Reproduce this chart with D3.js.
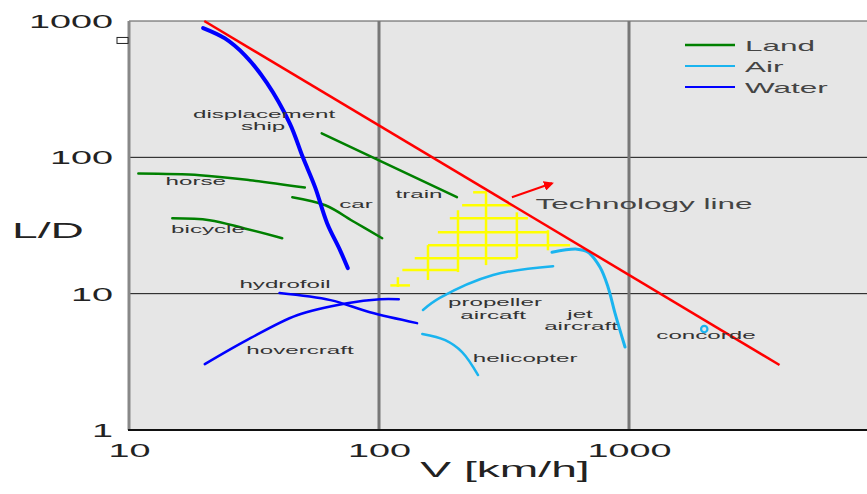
<!DOCTYPE html>
<html lang="en">
<head>
<meta charset="UTF-8">
<title>L/D vs V</title>
<script src="https://cdn.jsdelivr.net/npm/d3@7"></script>
<style>
  html, body { margin: 0; padding: 0; background: #fff; }
  svg { display: block; font-family: "Liberation Sans", Arial, sans-serif; }
</style>
</head>
<body>
<svg id="chart" width="867" height="494"></svg>
<script>
// ---- data (V in km/h, L/D) ----
const categories = ["Land", "Air", "Water"];
const categoryColors = ["#008000", "#1ab4ef", "#0000ff"];

const horse = [[10.9, 76], [19.2, 74], [30.5, 68], [50.5, 60]];
const bicycle = [[14.9, 35.7], [21, 34.6], [29, 30.1], [41, 25.5]];
const car = [[45, 51], [61, 44.5], [80, 33.4], [103, 25.5]];
const train = [[59, 150], [205, 51]];

const propeller = [[150, 7.6], [175, 9.3], [286, 13.7], [497, 15.9]];
const jet = [[492, 20.1], [620, 21.2], [686, 20.1], [766, 15.6], [824, 11.2], [879, 7.2], [964, 4.06]];
const helicopter = [[149, 5.06], [184, 4.56], [215, 3.73], [249, 2.53]];
const concorde = [2000, 5.5];

const ship = [[19.8, 888], [24.2, 745], [29.1, 560], [35.6, 352], [44, 177], [49.6, 100], [55.5, 60.5], [62, 32.9], [69.9, 20.8], [75, 15.4]];
const hydrofoil = [[40, 10.1], [64, 8.97], [92, 7.3], [142, 6.08]];
const hovercraft = [[20.1, 3.04], [29.6, 4.56], [47, 6.95], [74.5, 8.52], [101, 9.1], [120, 9.1]];

const techLine = [[20, 1000], [4000, 3]];
const techArrow = [[340, 51], [492, 64.5]];

// yellow hatch: horizontal [L, V1, V2], vertical [V, L1, L2]
const hatchH = [[55.4, 238, 270], [44.5, 215, 344], [35.7, 192, 394], [28.2, 172, 474],
                [22.7, 157, 581], [18.2, 139, 356], [14.9, 124, 207], [11.5, 111, 133]];
const hatchV = [[268, 55.4, 16.2], [207, 40.9, 14.4], [157, 22.7, 12.6], [119, 13.2, 11.2],
                [356, 39.5, 18.2], [474, 29.2, 20.8]];

const series = [
  { pts: horse, cat: 0, w: 2.5 },
  { pts: bicycle, cat: 0, w: 2.5 },
  { pts: car, cat: 0, w: 2.5 },
  { pts: train, cat: 0, w: 2.5 },
  { pts: propeller, cat: 1, w: 2.5 },
  { pts: jet, cat: 1, w: 3 },
  { pts: helicopter, cat: 1, w: 2.5 },
  { pts: ship, cat: 2, w: 4 },
  { pts: hydrofoil, cat: 2, w: 2.5 },
  { pts: hovercraft, cat: 2, w: 2.5 }
];

// labels anchored in data units (centre, baseline)
const labels = [
  ["displacement", 34.7, 193], ["ship", 34.4, 160],
  ["horse", 18.5, 62.4], ["bicycle", 20.7, 27.7],
  ["car", 80.9, 42.3], ["train", 144.5, 50],
  ["hydrofoil", 42.1, 11], ["hovercraft", 48.3, 3.6],
  ["propeller", 291, 8.1], ["aircaft", 286, 6.5],
  ["jet", 637, 6.6], ["aircraft", 643, 5.4],
  ["helicopter", 384, 3.15], ["concorde", 2032, 4.64]
];
const techLabel = ["Technology line", 1148, 41.6];

const xTicks = [10, 100, 1000];
const yTicks = [1, 10, 100, 1000];

// ---- drawing ----
const SX = 2.1; // the original bitmap is stretched sideways
const W = 867;
const svg = d3.select("#chart");

const x = d3.scaleLog().domain([10, 10000]).range([129, 879]);
const y = d3.scaleLog().domain([1, 1000]).range([430, 21]);
const plotLeft = x(10), plotTop = y(1000), plotBottom = y(1);

svg.append("rect")
  .attr("x", plotLeft).attr("y", plotTop)
  .attr("width", W - plotLeft).attr("height", plotBottom - plotTop)
  .attr("fill", "#e6e6e6");

svg.append("line")
  .attr("x1", plotLeft).attr("x2", W).attr("y1", plotTop).attr("y2", plotTop)
  .attr("stroke", "#555").attr("stroke-width", 1.2);

// horizontal grid
svg.selectAll(".hgrid").data([10, 100]).enter().append("line")
  .attr("x1", plotLeft).attr("x2", W)
  .attr("y1", d => y(d)).attr("y2", d => y(d))
  .attr("stroke", "#111").attr("stroke-width", 1);

// vertical grid
svg.selectAll(".vgrid").data([100, 1000]).enter().append("line")
  .attr("x1", d => x(d)).attr("x2", d => x(d))
  .attr("y1", plotTop).attr("y2", plotBottom)
  .attr("stroke", "#777").attr("stroke-width", 3);

svg.append("line")
  .attr("x1", plotLeft).attr("x2", plotLeft).attr("y1", plotTop).attr("y2", plotBottom)
  .attr("stroke", "#888").attr("stroke-width", 3);

svg.append("line")
  .attr("x1", plotLeft - 1).attr("x2", W).attr("y1", plotBottom).attr("y2", plotBottom)
  .attr("stroke", "#111").attr("stroke-width", 2);

// small marker box on the y axis
svg.append("rect")
  .attr("x", plotLeft - 12).attr("y", y(720) - 3)
  .attr("width", 11).attr("height", 6)
  .attr("fill", "#fff").attr("stroke", "#222").attr("stroke-width", 1);

// axes (labels only)
const xAxis = svg.append("g")
  .attr("transform", `translate(0,${plotBottom})`)
  .call(d3.axisBottom(x).tickValues(xTicks).tickFormat(d3.format("d")).tickSize(0));
xAxis.select(".domain").remove();
xAxis.selectAll("text")
  .attr("y", 27).attr("dy", null)
  .attr("transform", `scale(${SX},1)`)
  .attr("font-size", 18).attr("font-family", "Liberation Sans, Arial, sans-serif")
  .attr("fill", "#222");

const yAxis = svg.append("g")
  .attr("transform", `translate(${plotLeft},0)`)
  .call(d3.axisLeft(y).tickValues(yTicks).tickFormat(d3.format("d")).tickSize(0));
yAxis.select(".domain").remove();
yAxis.selectAll("text")
  .attr("x", -7.6).attr("dy", "0.36em")
  .attr("transform", `scale(${SX},1)`)
  .attr("font-size", 18).attr("font-family", "Liberation Sans, Arial, sans-serif")
  .attr("fill", "#222");

function stretchedText(str, px, py, size, color, anchor) {
  return svg.append("text")
    .attr("transform", `translate(${px},${py}) scale(${SX},1)`)
    .attr("text-anchor", anchor || "middle")
    .attr("font-size", size)
    .attr("fill", color)
    .text(str);
}

stretchedText("L/D", 48, 238, 22, "#222");
stretchedText("V [km/h]", 505, 477, 22, "#222");

// yellow hatch
svg.selectAll(".hh").data(hatchH).enter().append("line")
  .attr("x1", d => x(d[1])).attr("x2", d => x(d[2]))
  .attr("y1", d => y(d[0])).attr("y2", d => y(d[0]))
  .attr("stroke", "#ffff00").attr("stroke-width", 2.5);
svg.selectAll(".hv").data(hatchV).enter().append("line")
  .attr("x1", d => x(d[0])).attr("x2", d => x(d[0]))
  .attr("y1", d => y(d[1])).attr("y2", d => y(d[2]))
  .attr("stroke", "#ffff00").attr("stroke-width", 2.5);

// curves
const line = d3.line().x(d => x(d[0])).y(d => y(d[1])).curve(d3.curveCatmullRom.alpha(0.5));
svg.selectAll(".series").data(series).enter().append("path")
  .attr("d", d => line(d.pts))
  .attr("fill", "none")
  .attr("stroke", d => categoryColors[d.cat])
  .attr("stroke-width", d => d.w)
  .attr("stroke-linecap", "round");

svg.append("circle")
  .attr("cx", x(concorde[0])).attr("cy", y(concorde[1])).attr("r", 3.2)
  .attr("fill", "none").attr("stroke", categoryColors[1]).attr("stroke-width", 2.2);

// technology line + arrow
svg.append("defs").append("marker")
  .attr("id", "arrow").attr("viewBox", "0 0 10 10")
  .attr("refX", 8).attr("refY", 5)
  .attr("markerWidth", 5).attr("markerHeight", 5)
  .attr("orient", "auto")
  .append("path").attr("d", "M0,0 L10,5 L0,10 z").attr("fill", "#ff0000");

svg.append("path")
  .attr("d", d3.line().x(d => x(d[0])).y(d => y(d[1]))(techLine))
  .attr("stroke", "#ff0000").attr("stroke-width", 2.5).attr("fill", "none");
svg.append("path")
  .attr("d", d3.line().x(d => x(d[0])).y(d => y(d[1]))(techArrow))
  .attr("stroke", "#ff0000").attr("stroke-width", 2).attr("fill", "none")
  .attr("marker-end", "url(#arrow)");

// labels
labels.forEach(l => stretchedText(l[0], x(l[1]), y(l[2]), 11.5, "#333"));
stretchedText(techLabel[0], x(techLabel[1]), y(techLabel[2]), 15, "#444");

// legend
const legend = svg.append("g").attr("transform", "translate(685,45)");
categories.forEach((c, i) => {
  legend.append("line")
    .attr("x1", 0).attr("x2", 50).attr("y1", i * 21).attr("y2", i * 21)
    .attr("stroke", categoryColors[i]).attr("stroke-width", i === 0 ? 2.5 : 2);
  legend.append("text")
    .attr("transform", `translate(60,${i * 21 + 6}) scale(${SX},1)`)
    .attr("font-size", 15).attr("fill", "#444")
    .text(c);
});
</script>
</body>
</html>
